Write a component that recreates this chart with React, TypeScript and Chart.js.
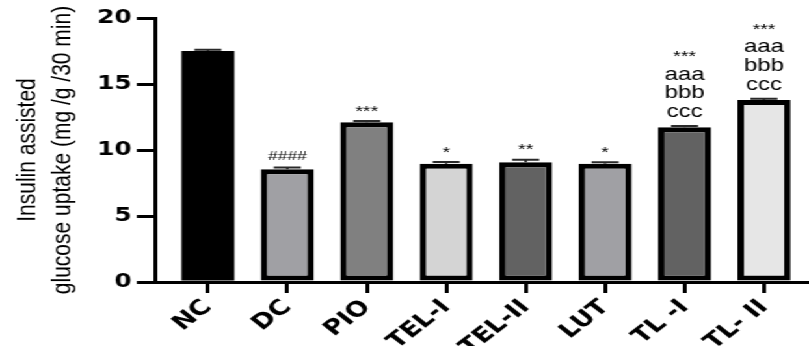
import React, { useEffect, useRef } from "react";
import { Chart, registerables } from "chart.js";

Chart.register(...registerables);

const categories = ["NC", "DC", "PIO", "TEL-I", "TEL-II", "LUT", "TL -I", "TL- II"];
const meanValues = [17.5, 8.55, 12.1, 8.95, 9.07, 8.96, 11.72, 13.79];
const errorValues = [0.1, 0.13, 0.1, 0.14, 0.2, 0.11, 0.1, 0.1];
const starLabels = ["", "####", "***", "*", "**", "*", "***", "***"];
const letterLabels: string[][] = [[], [], [], [], [], [], ["aaa", "bbb", "ccc"], ["aaa", "bbb", "ccc"]];
const barColors = ["#000000", "#a0a0a4", "#808080", "#d4d4d4", "#626262", "#a0a0a4", "#626262", "#e6e6e6"];
const yTicks = [0, 5, 10, 15, 20];

const W = 622;
const H = 346;
const STRETCH = 809 / W;

const errorBarPlugin = {
  id: "errorBars",
  afterDatasetsDraw(chart: any) {
    const ctx = chart.ctx;
    const yScale = chart.scales.y;
    const meta = chart.getDatasetMeta(0);
    ctx.save();
    meta.data.forEach((bar: any, i: number) => {
      const top = yScale.getPixelForValue(meanValues[i] + errorValues[i]);
      ctx.strokeStyle = "#2a2a2a";
      ctx.lineWidth = 2;
      ctx.beginPath();
      ctx.moveTo(bar.x, bar.y);
      ctx.lineTo(bar.x, top);
      ctx.moveTo(bar.x - 10.4, top);
      ctx.lineTo(bar.x + 10.4, top);
      ctx.stroke();

      ctx.fillStyle = "#000";
      ctx.textAlign = "center";
      ctx.textBaseline = "alphabetic";
      const letters = letterLabels[i];
      const star = starLabels[i];
      if (letters.length) {
        ctx.font = "18.5px 'Liberation Sans', Arial, sans-serif";
        letters.forEach((t, k) => {
          const fromBottom = letters.length - 1 - k;
          ctx.fillText(t, bar.x, top - 8.6 - fromBottom * 18.9);
        });
        if (star) {
          ctx.font = "15px 'Liberation Sans', Arial, sans-serif";
          ctx.fillText(star, bar.x, top - 8.6 - (letters.length - 1) * 18.9 - 4.8 - 22 + 8.6);
        }
      } else if (star) {
        if (star.startsWith("#")) {
          ctx.font = "13.5px 'Liberation Sans', Arial, sans-serif";
          ctx.fillText(star, bar.x, top - 7.4);
        } else {
          ctx.font = "15px 'Liberation Sans', Arial, sans-serif";
          ctx.fillText(star, bar.x, top - 5.4);
        }
      }
    });
    ctx.restore();
  },
};

export default function App() {
  const canvasRef = useRef<HTMLCanvasElement | null>(null);

  useEffect(() => {
    if (!canvasRef.current) return;
    const chart = new Chart(canvasRef.current, {
      type: "bar",
      data: {
        datasets: [
          {
            data: meanValues.map((v, i) => ({ x: i, y: v })),
            backgroundColor: barColors,
            borderColor: "#000000",
            borderWidth: barColors.map((c) => (c === "#000000" ? 0 : 5)),
            borderSkipped: false,
            barPercentage: 0.668,
            categoryPercentage: 1,
          },
        ],
      },
      options: {
        animation: false,
        responsive: false,
        devicePixelRatio: 1,
        layout: { padding: { top: 18, left: 0, right: 0.7, bottom: 0 } },
        plugins: {
          legend: { display: false },
          tooltip: { enabled: false },
        },
        scales: {
          x: {
            type: "linear",
            offset: false,
            min: -0.666,
            max: 7.555,
            afterBuildTicks: (scale: any) => {
              scale.ticks = categories.map((_, i) => ({ value: i }));
            },
            afterFit: (scale: any) => {
              scale.height = H - 282;
              scale.paddingLeft = 0;
              scale.paddingRight = 0;
            },
            border: { display: true, color: "#000", width: 3, z: 1 },
            grid: {
              display: true,
              offset: false,
              drawOnChartArea: false,
              drawTicks: true,
              tickLength: 11,
              lineWidth: 3,
              color: "#000",
            },
            ticks: {
              autoSkip: false,
              minRotation: 45,
              maxRotation: 45,
              padding: 2,
              color: "#000",
              font: { family: "'DejaVu Sans', sans-serif", size: 21, weight: "bold" },
              callback: (v: any) => categories[v] ?? "",
            },
          },
          y: {
            min: 0,
            max: 20,
            afterBuildTicks: (scale: any) => {
              scale.ticks = yTicks.map((v) => ({ value: v }));
            },
            afterFit: (scale: any) => {
              scale.width = 155 / STRETCH;
              scale.paddingTop = 0;
              scale.paddingBottom = 0;
            },
            border: { display: true, color: "#000", width: 3 },
            grid: {
              display: true,
              drawOnChartArea: false,
              drawTicks: true,
              tickLength: 14,
              lineWidth: 3,
              color: "#000",
            },
            ticks: {
              padding: 4,
              color: "#000",
              font: { family: "'DejaVu Sans', sans-serif", size: 19, weight: "bold" },
            },
            title: {
              display: true,
              text: ["Insulin assisted", "glucose uptake (mg /g /30 min)"],
              color: "#000",
              font: { family: "'Liberation Sans', Arial, sans-serif", size: 21, lineHeight: 1.32 },
              padding: { top: 7, bottom: 0 },
            },
          },
        },
      },
      plugins: [errorBarPlugin],
    });
    return () => chart.destroy();
  }, []);

  return (
    <div
      style={{
        position: "absolute",
        left: 0,
        top: 0,
        width: W,
        height: H,
        transform: `scaleX(${STRETCH})`,
        transformOrigin: "0 0",
        background: "#fff",
      }}
    >
      <canvas ref={canvasRef} width={W} height={H} style={{ width: W, height: H, display: "block" }} />
    </div>
  );
}
